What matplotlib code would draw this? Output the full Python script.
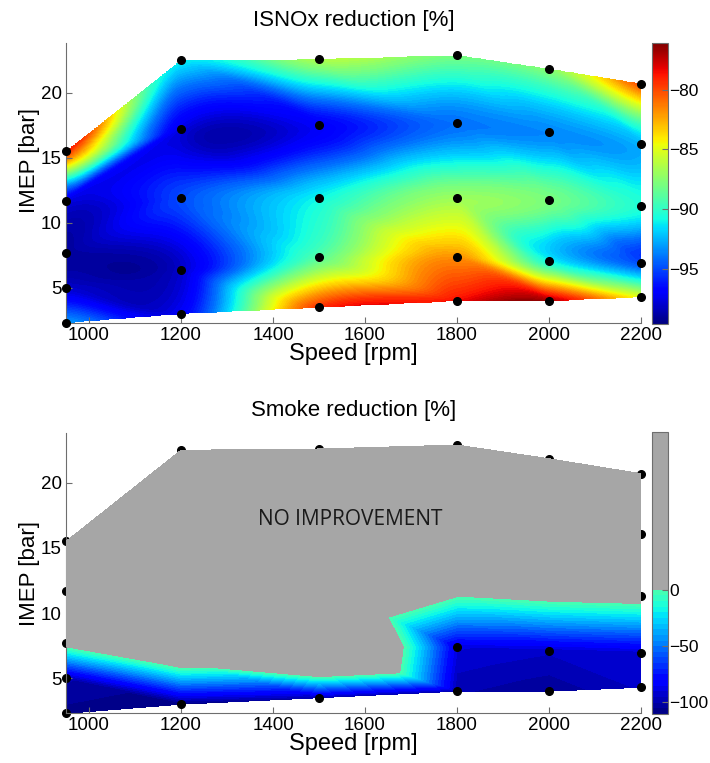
import numpy as np
import matplotlib
matplotlib.use("Agg")
import matplotlib.pyplot as plt
import matplotlib.tri as mtri
from matplotlib.colors import ListedColormap, Normalize
from matplotlib.cm import ScalarMappable

# measured operating points: one list of IMEP per speed column
speeds = [950, 1200, 1500, 1800, 2000, 2200]
imep = [
    [2.3, 5.0, 7.7, 11.7, 15.5],
    [3.0, 6.4, 11.95, 17.25, 22.5],
    [3.5, 7.4, 11.95, 17.5, 22.6],
    [4.0, 7.4, 11.95, 17.7, 22.9],
    [4.0, 7.1, 11.8, 17.0, 21.85],
    [4.3, 6.9, 11.3, 16.1, 20.7],
]
nox_red = [
    [-93.0, -98.0, -99.0, -97.5, -79.0],
    [-97.0, -98.0, -95.0, -97.5, -91.0],
    [-79.5, -89.0, -91.0, -97.0, -86.5],
    [-78.5, -82.0, -87.0, -94.0, -88.0],
    [-77.0, -91.0, -88.0, -93.5, -87.5],
    [-85.0, -95.0, -90.5, -92.5, -80.0],
]
smoke_red = [
    [-108.0, -100.0, 12.0, 60.0, 60.0],
    [-111.0, 23.0, 80.0, 80.0, 80.0],
    [-100.0, 141.0, 90.0, 80.0, 80.0],
    [-100.0, -90.0, 16.0, 60.0, 60.0],
    [-105.0, -95.0, 22.0, 60.0, 60.0],
    [-95.0, -95.0, 14.0, 60.0, 60.0],
]
nox_range = (-99.6, -76.1)
smoke_range = (-111.0, 141.0)

plt.rcParams['font.family'] = ['Liberation Sans', 'DejaVu Sans']
AX_GREY = '#6e6e6e'
FS = 13.5

n_cols, n_rows = len(speeds), len(imep[0])
x = np.repeat(speeds, n_rows).astype(float)
y = np.array(imep).ravel()
z_nox = np.array(nox_red).ravel()
z_smoke = np.array(smoke_red).ravel()

# triangulate the speed/load grid column by column
tris = []
for i in range(n_cols - 1):
    for j in range(n_rows - 1):
        a = i * n_rows + j
        b = (i + 1) * n_rows + j
        tris += [[a, b, a + 1], [b, b + 1, a + 1]]

xs, ys = 1250.0, 20.6
tri_n = mtri.Triangulation((x - 950) / xs, (y - 2.3) / ys, tris)
tri_raw = mtri.Triangulation(x, y, tris)

fig = plt.figure(figsize=(7.1, 7.63), dpi=100)
ax1 = fig.add_axes([0.0930, 0.5767, 0.8099, 0.3670])
cax1 = fig.add_axes([0.9183, 0.5754, 0.0225, 0.3683])
ax2 = fig.add_axes([0.0930, 0.0651, 0.8099, 0.3678])
cax2 = fig.add_axes([0.9183, 0.0642, 0.0225, 0.3700])

# --- ISNOx: smooth cubic interpolation
XG, YG = np.meshgrid(np.linspace(950, 2200, 500), np.linspace(2.3, 23, 400))
interp = mtri.CubicTriInterpolator(tri_n, z_nox, kind='geom')
ZN = interp((XG - 950) / xs, (YG - 2.3) / ys)
ZN = np.ma.clip(ZN, nox_range[0], nox_range[1])
norm1 = Normalize(*nox_range)
ax1.contourf(XG, YG, ZN, levels=np.linspace(nox_range[0], nox_range[1], 90),
             cmap='jet', norm=norm1, zorder=1)
ax1.plot(x, y, 'o', color='black', markersize=5.5, clip_on=False, zorder=5)
cb1 = fig.colorbar(ScalarMappable(norm=norm1, cmap='jet'), cax=cax1)
cb1.set_ticks([-95, -90, -85, -80])
ax1.set_title('ISNOx reduction [%]', fontsize=16, pad=12)

# --- smoke: linear interpolation, no-improvement area in grey on top of the dots
jet = plt.get_cmap('jet')
grey = '#a6a6a6'
cols = []
for k in range(256):
    v = smoke_range[0] + (k + 0.5) / 256 * (smoke_range[1] - smoke_range[0])
    cols.append(jet((v - smoke_range[0]) / (smoke_range[1] - smoke_range[0])) if v < 0 else grey)
smoke_cmap = ListedColormap(cols)
norm2 = Normalize(*smoke_range)
lev_neg = list(np.linspace(smoke_range[0], 0, 23))
cs2 = ax2.tricontourf(tri_raw, z_smoke, levels=lev_neg + [smoke_range[1]],
                      cmap=smoke_cmap, norm=norm2, zorder=1)
ax2.plot(x, y, 'o', color='black', markersize=5.5, clip_on=False, zorder=2)
ax2.tricontourf(tri_raw, z_smoke, levels=[0, smoke_range[1]],
                colors=[grey], zorder=3)
cb2 = fig.colorbar(cs2, cax=cax2, spacing='proportional')
cb2.set_ticks([-100, -50, 0])
ax2.set_title('Smoke reduction [%]', fontsize=16, pad=12)
ax2.text(1567, 17.2, 'NO IMPROVEMENT', ha='center', va='center', zorder=6,
         fontsize=15, color='#1a1a1a', family=['Open Sans', 'DejaVu Sans'])

for ax in (ax1, ax2):
    ax.set_xlim(950, 2200)
    ax.set_ylim(2.3, 23.85)
    ax.set_xticks(range(1000, 2201, 200))
    ax.set_yticks([5, 10, 15, 20])
    for s in ('top', 'right'):
        ax.spines[s].set_visible(False)
    for s in ('left', 'bottom'):
        ax.spines[s].set_color(AX_GREY)
    ax.tick_params(direction='in', length=4, color=AX_GREY, labelsize=FS, pad=3)
    ax.set_xlabel('Speed [rpm]', fontsize=17, labelpad=-1)
    ax.set_ylabel('IMEP [bar]', fontsize=16)

ax1.yaxis.set_label_coords(-0.045, 0.58)
ax2.yaxis.set_label_coords(-0.045, 0.5)

for cb in (cb1, cb2):
    cb.outline.set_edgecolor(AX_GREY)
    cb.ax.tick_params(direction='in', length=4, color=AX_GREY, labelsize=12.5, pad=1)

fig.savefig('out.png', dpi=100)
